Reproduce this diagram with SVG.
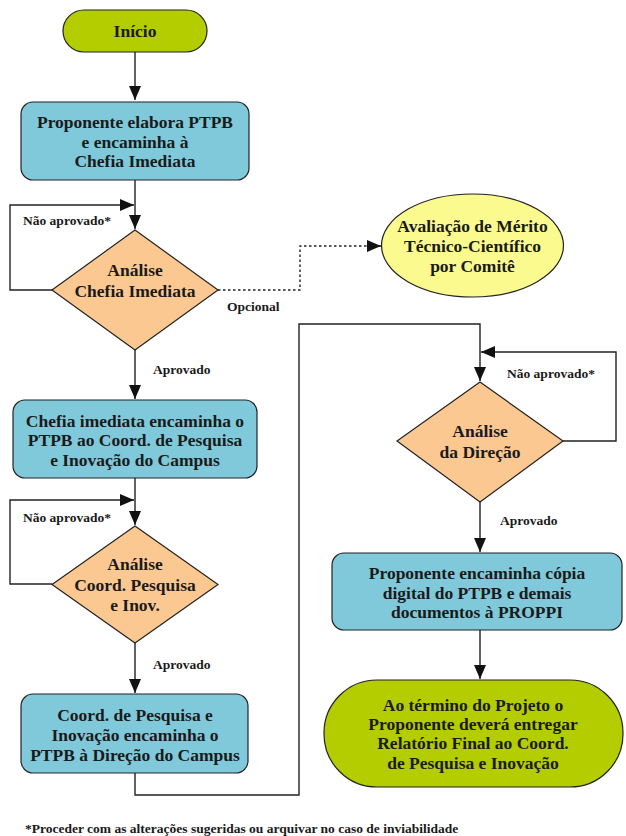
<svg xmlns="http://www.w3.org/2000/svg" width="626" height="836" viewBox="0 0 626 836">
  <defs>
    <marker id="arrowBig" viewBox="0 0 14 12" refX="14" refY="6" markerWidth="14" markerHeight="12" markerUnits="userSpaceOnUse" orient="auto">
      <path d="M0,0 L14,6 L0,12 Z" fill="#111"/>
    </marker>
    <style>
      .node { stroke: #222; stroke-width: 1.2; }
      .start { fill: #b3cd00; }
      .step { fill: #80c9da; }
      .dec { fill: #fcc892; }
      .opt { fill: #fafa8e; }
      .t { font-size: 17.5px; }
      .lbl { font-size: 13.5px; }
      .note { font-size: 13.5px; }
      .edge { fill: none; stroke: #222; stroke-width: 1.4; }
      .dotted { stroke-dasharray: 2.5 2.5; }
    </style>
  </defs>

  <g font-family="Liberation Serif, DejaVu Serif, serif" font-weight="bold" fill="#1a1a1a">
  <!-- connectors -->
  <g id="connectors">
    <path class="edge" d="M135,52 V100" marker-end="url(#arrowBig)"/>
    <path class="edge" d="M135,180 V229" marker-end="url(#arrowBig)"/>
    <path class="edge" d="M52,290 H10 V205 H134" marker-end="url(#arrowBig)"/>
    <path class="edge dotted" d="M218,290 H300 V246 H381" marker-end="url(#arrowBig)"/>
    <path class="edge" d="M135,350 V399" marker-end="url(#arrowBig)"/>
    <path class="edge" d="M135,478 V525" marker-end="url(#arrowBig)"/>
    <path class="edge" d="M52,584 H10 V500 H134" marker-end="url(#arrowBig)"/>
    <path class="edge" d="M135,643 V693" marker-end="url(#arrowBig)"/>
    <path class="edge" d="M135,773 V795 H299 V324 H480 V381" marker-end="url(#arrowBig)"/>
    <path class="edge" d="M563,441 H616 V352 H481" marker-end="url(#arrowBig)"/>
    <path class="edge" d="M480,502 V552" marker-end="url(#arrowBig)"/>
    <path class="edge" d="M480,630 V679" marker-end="url(#arrowBig)"/>

    <text class="lbl" x="23" y="225">Não aprovado*</text>
    <text class="lbl" x="227" y="311">Opcional</text>
    <text class="lbl" x="153" y="374">Aprovado</text>
    <text class="lbl" x="23" y="522">Não aprovado*</text>
    <text class="lbl" x="153" y="669">Aprovado</text>
    <text class="lbl" x="507" y="378">Não aprovado*</text>
    <text class="lbl" x="500" y="525">Aprovado</text>
  </g>

  <g text-anchor="middle">
  <g id="inicio">
    <rect class="node start" x="63" y="10" width="144" height="42" rx="21"/>
    <text class="t" x="135" y="37">Início</text>
  </g>

  <g id="elabora">
    <rect class="node step" x="21" y="102" width="228" height="78" rx="12"/>
    <text class="t" x="135" y="128">Proponente elabora PTPB</text>
    <text class="t" x="135" y="148">e encaminha à</text>
    <text class="t" x="135" y="167">Chefia Imediata</text>
  </g>

  <g id="analise-chefia">
    <polygon class="node dec" points="135,230 218,290 135,350 52,290"/>
    <text class="t" x="135" y="276">Análise</text>
    <text class="t" x="135" y="297">Chefia Imediata</text>
  </g>

  <g id="avaliacao">
    <ellipse class="node opt" cx="472.5" cy="245.5" rx="91" ry="51.5"/>
    <text class="t" x="472.5" y="232">Avaliação de Mérito</text>
    <text class="t" x="472.5" y="252">Técnico-Científico</text>
    <text class="t" x="472.5" y="272">por Comitê</text>
  </g>

  <g id="chefia-encaminha">
    <rect class="node step" x="13" y="400" width="244" height="78" rx="12"/>
    <text class="t" x="135" y="427">Chefia imediata encaminha o</text>
    <text class="t" x="135" y="446">PTPB ao Coord. de Pesquisa</text>
    <text class="t" x="135" y="466">e Inovação do Campus</text>
  </g>

  <g id="analise-coord">
    <polygon class="node dec" points="135,526 218,584.5 135,643 52,584.5"/>
    <text class="t" x="135" y="570">Análise</text>
    <text class="t" x="135" y="591">Coord. Pesquisa</text>
    <text class="t" x="135" y="611">e Inov.</text>
  </g>

  <g id="coord-encaminha">
    <rect class="node step" x="21" y="694" width="227" height="79" rx="12"/>
    <text class="t" x="135" y="721">Coord. de Pesquisa e</text>
    <text class="t" x="135" y="741">Inovação encaminha o</text>
    <text class="t" x="135" y="761">PTPB à Direção do Campus</text>
  </g>

  <g id="analise-direcao">
    <polygon class="node dec" points="480,382 563,441 480,502 397,441"/>
    <text class="t" x="480" y="437">Análise</text>
    <text class="t" x="480" y="458">da Direção</text>
  </g>

  <g id="proppi">
    <rect class="node step" x="332" y="553" width="290" height="77" rx="12"/>
    <text class="t" x="477" y="579">Proponente encaminha cópia</text>
    <text class="t" x="477" y="599">digital do PTPB e demais</text>
    <text class="t" x="477" y="618">documentos à PROPPI</text>
  </g>

  <g id="fim">
    <rect class="node start" x="324" y="680" width="299" height="107" rx="53" ry="53"/>
    <text class="t" x="473" y="711">Ao término do Projeto o</text>
    <text class="t" x="473" y="730">Proponente deverá entregar</text>
    <text class="t" x="473" y="749">Relatório Final ao Coord.</text>
    <text class="t" x="473" y="769">de Pesquisa e Inovação</text>
  </g>
  </g>

  <text class="note" x="25" y="833">*Proceder com as alterações sugeridas ou arquivar no caso de inviabilidade</text>
  </g>
</svg>
